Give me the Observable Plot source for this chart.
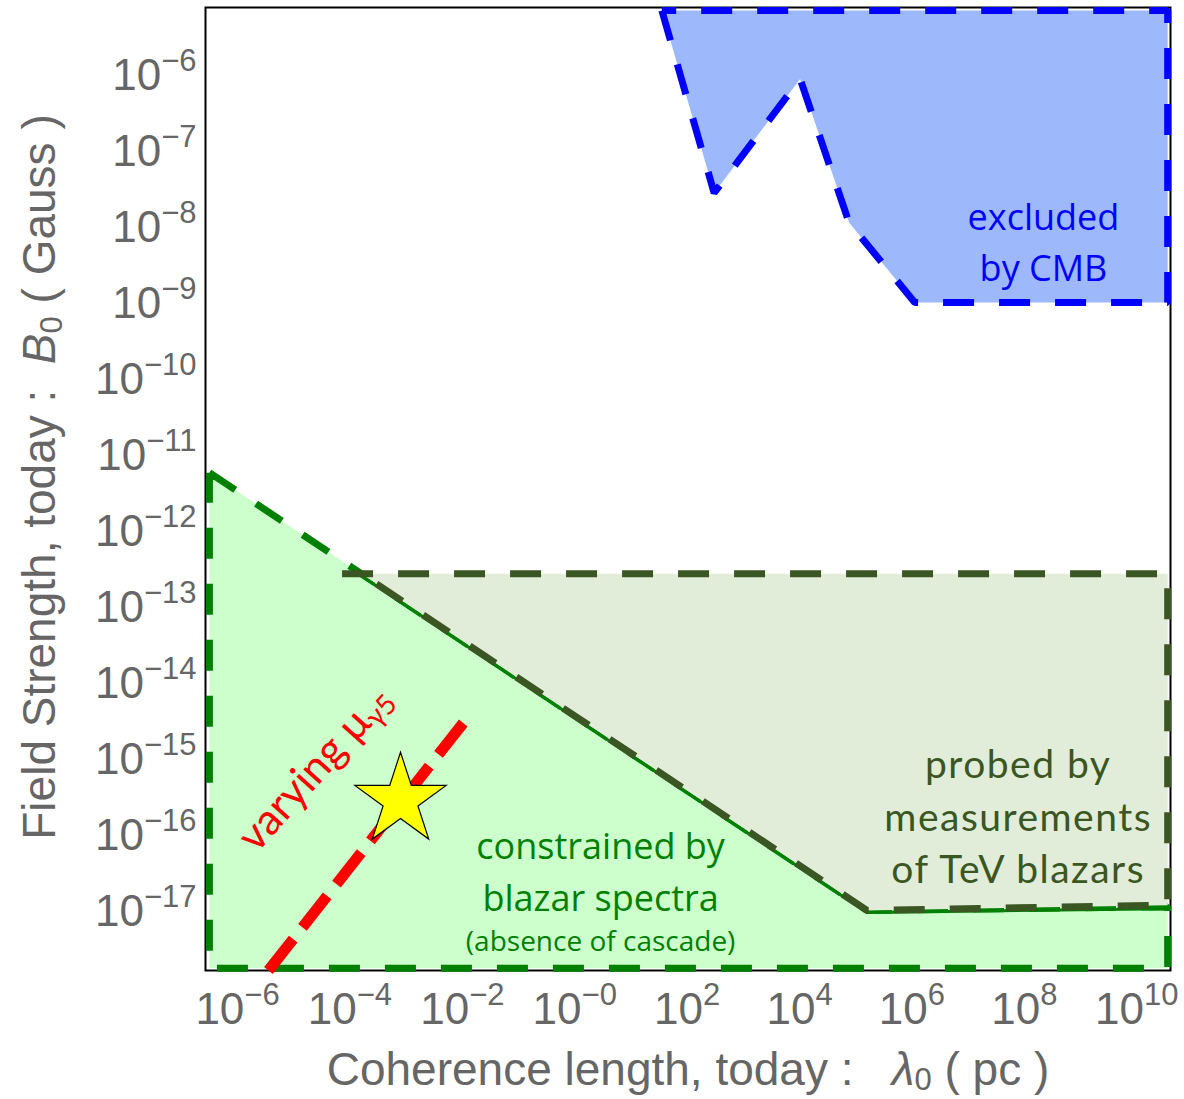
<!DOCTYPE html>
<html>
<head>
<meta charset="utf-8">
<script src="https://cdn.jsdelivr.net/npm/d3@7"></script>
<script src="https://cdn.jsdelivr.net/npm/@observablehq/plot@0.6"></script>
<style>
  body { margin: 0; background: #fff; }
  svg text { white-space: pre; }
</style>
</head>
<body>
<div id="chart"></div>
<script>
// All positions are powers of ten: coherence length λ0 in pc, field strength B0 in Gauss.

// CMB exclusion region (closed outline)
const cmbLambdaExp = [1.55, 2.48, 4.01, 4.88, 6.05, 10.55, 10.55, 1.55];
const cmbFieldExp  = [-5.21, -7.61, -6.11, -8.0, -9.05, -9.05, -5.21, -5.21];

// Blazar-spectra constraint (absence of cascade)
const blazarLambdaExp = [-6.5, 5.2, 10.55, 10.55, -6.5, -6.5];
const blazarFieldExp  = [-11.29, -17.05, -17.0, -17.81, -17.81, -11.29];

// Region probed by TeV blazar measurements
const tevLambdaExp = [-4.14, 10.55, 10.55, 5.2, -3.8];
const tevFieldExp  = [-12.62, -12.62, -16.98, -17.05, -12.62];

// Boundary shared by the two blazar regions
const sharedLambdaExp = [-3.8, 5.2, 10.55];
const sharedFieldExp  = [-12.62, -17.05, -17.0];

// Track obtained by varying the chiral chemical potential
const muLambdaExp = [-5.45, -1.98];
const muFieldExp  = [-17.84, -14.58];

// Benchmark point
const starLambdaExp = [-3.1];
const starFieldExp  = [-15.6];

// Axis ticks
const xTickExp = [-6, -4, -2, 0, 2, 4, 6, 8, 10];
const yTickExp = [-6, -7, -8, -9, -10, -11, -12, -13, -14, -15, -16, -17];

const p10 = e => 10 ** e;
const toPoints = (xs, ys) => xs.map((x, i) => ({x: p10(x), y: p10(ys[i])}));

const cmb = toPoints(cmbLambdaExp, cmbFieldExp);
const blazar = toPoints(blazarLambdaExp, blazarFieldExp);
const tev = toPoints(tevLambdaExp, tevFieldExp);
const shared = toPoints(sharedLambdaExp, sharedFieldExp);
const mu = toPoints(muLambdaExp, muFieldExp);
const star = toPoints(starLambdaExp, starFieldExp);

const xTicks = xTickExp.map(p10);
const yTicks = yTickExp.map(p10);

// "10^e" with the minus sign kept even for zero
const powFormat = d => {
  const e = Math.round(Math.log10(d));
  return "10^" + (e <= 0 ? "\u2212" + Math.abs(e) : String(e));
};

const DASH = "31,25";
const axisFont = "'Liberation Sans', Arial, Helvetica, sans-serif";
const dashed = {strokeWidth: 7, strokeDasharray: DASH, strokeLinejoin: "miter", strokeLinecap: "butt"};

const chart = Plot.plot({
  width: 1184,
  height: 1099,
  marginLeft: 205,
  marginRight: 14,
  marginTop: 7,
  marginBottom: 129,
  style: {fontFamily: axisFont, color: "#666", background: "white"},
  x: {type: "log", domain: [p10(-6.57), p10(10.6)], label: null},
  y: {type: "log", domain: [p10(-17.84), p10(-5.17)], label: null},
  marks: [
    Plot.frame({stroke: "black", strokeWidth: 2}),

    // constrained by blazar spectra
    Plot.line(blazar, {x: "x", y: "y", fill: "#ccffcc", stroke: "#008000", ...dashed}),

    // probed by TeV blazars
    Plot.line(tev, {x: "x", y: "y", fill: "#e1edd8", stroke: "none"}),
    Plot.line(shared, {x: "x", y: "y", stroke: "#008000", strokeWidth: 3, dy: 2}),
    Plot.line(tev, {x: "x", y: "y", stroke: "#3a5623", ...dashed}),

    // excluded by CMB
    Plot.line(cmb, {x: "x", y: "y", fill: "#9db8fb", stroke: "#0000ff", ...dashed}),

    // varying mu_gamma5
    Plot.line(mu, {x: "x", y: "y", stroke: "#ff0000", strokeWidth: 11,
      strokeDasharray: "40,15", strokeLinecap: "butt"}),
    Plot.dot(star, {x: "x", y: "y", symbol: "star", r: 28.7, fill: "#ffff00",
      stroke: "black", strokeWidth: 1.2}),

    // region labels
    Plot.text([{x: p10(8.34), y: p10(-8.22)}], {x: "x", y: "y", text: () => "excluded\nby CMB",
      fill: "#0000ff", fontSize: 36, lineHeight: 1.4, fontFamily: "'Open Sans', sans-serif"}),
    Plot.text([{x: p10(0.46), y: p10(-16.5)}], {x: "x", y: "y", text: () => "constrained by\nblazar spectra",
      fill: "#008000", fontSize: 36, lineHeight: 1.42, fontFamily: "'Open Sans', sans-serif"}),
    Plot.text([{x: p10(0.46), y: p10(-17.46)}], {x: "x", y: "y", text: () => "(absence of cascade)",
      fill: "#008000", fontSize: 28, fontFamily: "'Open Sans', sans-serif"}),
    Plot.text([{x: p10(7.89), y: p10(-15.78)}], {x: "x", y: "y",
      text: () => "probed by\nmeasurements\nof TeV blazars",
      fill: "#3a5623", fontSize: 39, lineHeight: 1.34, fontFamily: "Lato, sans-serif"}),
    Plot.text([{x: p10(-4.62), y: p10(-15.18)}], {x: "x", y: "y", text: () => "varying \u03bc",
      fill: "#ff0000", fontSize: 43, rotate: -48, fontFamily: "Lato, sans-serif"}),

    // axes
    Plot.axisX({ticks: xTicks, tickFormat: powFormat, tickSize: 0, tickPadding: 22,
      fontSize: 44, label: null}),
    Plot.axisY({ticks: yTicks, tickFormat: powFormat, tickSize: 0, tickPadding: 9,
      fontSize: 44, label: null, dy: 5}),

    // axis titles
    Plot.text(["Coherence length, today :   \u03bb0 ( pc )"], {frameAnchor: "bottom", lineAnchor: "middle",
      textAnchor: "middle", dy: 100, fontSize: 46, fill: "#666"}),
    Plot.text(["Field Strength, today :  B0 ( Gauss )"], {frameAnchor: "left", lineAnchor: "middle",
      textAnchor: "middle", rotate: -90, dx: -165, dy: -12, fontSize: 46, fill: "#666"})
  ]
});

document.getElementById("chart").appendChild(chart);

// Rich text: superscripts, subscripts and italic symbols
function rich(textEl, parts) {
  const t = d3.select(textEl);
  t.text(null);
  for (const p of parts) {
    const s = t.append("tspan").text(p.text);
    if (p.italic) s.attr("font-style", "italic");
    if (p.size) s.attr("font-size", p.size);
    if (p.dy) s.attr("dy", p.dy);
  }
}

const svg = d3.select(chart);
svg.selectAll("text").each(function () {
  const s = this.textContent;
  if (/^10\^/.test(s)) {
    rich(this, [{text: "10"}, {text: s.slice(3), size: 31, dy: -19}]);
  } else if (s.startsWith("Coherence length")) {
    rich(this, [
      {text: "Coherence length, today :   "},
      {text: "\u03bb", italic: true},
      {text: "0", size: 31, dy: 5},
      {text: " ( pc )", dy: -5}
    ]);
  } else if (s.startsWith("Field Strength")) {
    rich(this, [
      {text: "Field Strength, today :  "},
      {text: "B", italic: true},
      {text: "0", size: 31, dy: 7},
      {text: " ( Gauss )", dy: -7}
    ]);
  } else if (s.startsWith("varying")) {
    rich(this, [{text: "varying \u03bc"}, {text: "\u03b35", size: 28, dy: 6}]);
  } else if (s.startsWith("probed")) {
    d3.select(this).attr("letter-spacing", 1.5);
  }
});
</script>
</body>
</html>
